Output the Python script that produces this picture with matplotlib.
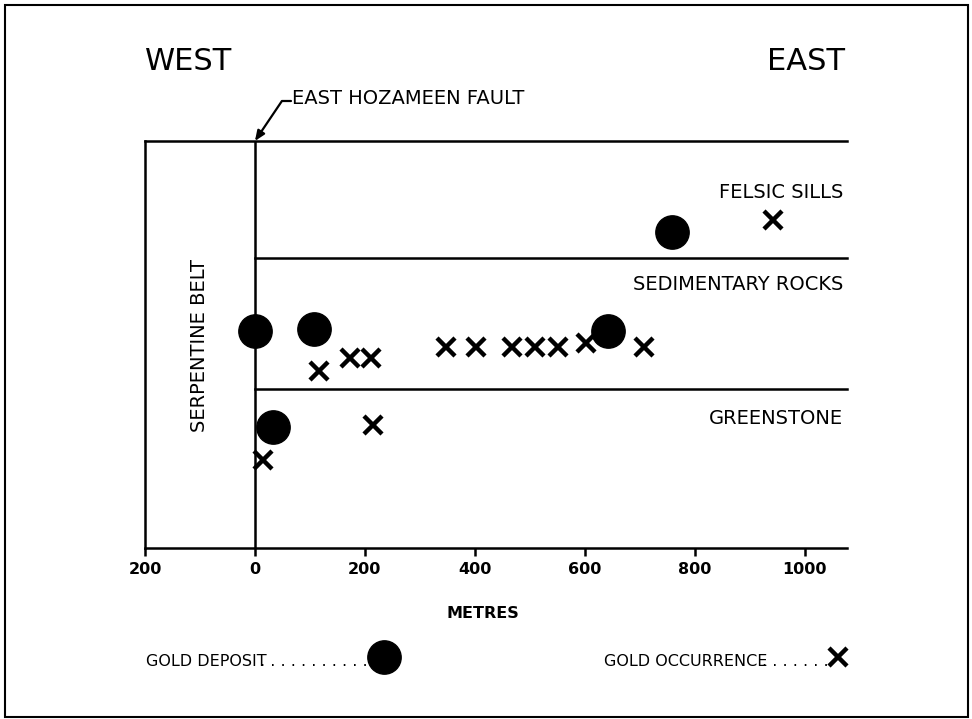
import matplotlib
matplotlib.use("Agg")
import matplotlib.pyplot as plt
from matplotlib.lines import Line2D
from matplotlib.patches import Rectangle

plt.rcParams["font.family"] = ["DejaVu Sans"]

# 金鉱床 (distance east of fault in metres, schematic height)
deposit_x = [0, 107, 33, 758, 642]
deposit_y = [217, 219, 121, 316, 217]

# 金の産出地点
occurrence_x = [116, 173, 211, 215, 15, 347, 402, 467, 509, 551, 602, 708, 942]
occurrence_y = [177, 190, 190, 123, 88, 201, 201, 201, 201, 201, 205, 201, 328]

# 地層境界と凡例
contacts = [290, 159]
units = ["FELSIC SILLS", "SEDIMENTARY ROCKS", "GREENSTONE"]
unit_y = [356, 263, 130]
xticks = [-200, 0, 200, 400, 600, 800, 1000]
xtick_labels = ["200", "0", "200", "400", "600", "800", "1000"]

W, H = 972, 719
fig = plt.figure(figsize=(W / 100, H / 100), dpi=100)

# 枠線
fig.add_artist(Rectangle((5 / W, 2 / H), 963 / W, 712 / H, transform=fig.transFigure,
                         fill=False, lw=1.5, ec="black"))

ax = fig.add_axes([145 / W, 1 - 548 / H, 702 / W, 407 / H])
ax.set_xlim(-200, 1077)
ax.set_ylim(0, 407)

for s in ["left", "bottom", "top"]:
    ax.spines[s].set_linewidth(1.8)
ax.spines["right"].set_visible(False)

ax.axvline(0, color="black", lw=1.8)
for c in contacts:
    ax.plot([0, 1077], [c, c], color="black", lw=1.8, clip_on=False)

ax.set_xticks(xticks)
ax.set_xticklabels(xtick_labels, fontsize=11.5, fontweight="bold")
ax.tick_params(axis="x", direction="out", length=6, width=1.8, pad=4)
ax.set_yticks([])

ax.plot(occurrence_x, occurrence_y, linestyle="none", marker="x", ms=13, mew=3.2, color="black")
ax.plot(deposit_x, deposit_y, linestyle="none", marker="o", ms=24, color="black")

for name, yy in zip(units, unit_y):
    ax.text(1070, yy, name, ha="right", va="center", fontsize=14)

ax.text(-100, 203, "SERPENTINE BELT", rotation=90, ha="center", va="center", fontsize=14)

fig.text(145 / W, 1 - 62 / H, "WEST", fontsize=22, ha="left", va="center")
fig.text(845 / W, 1 - 62 / H, "EAST", fontsize=22, ha="right", va="center")

# 断層の注記
fig.text(292 / W, 1 - 99 / H, "EAST HOZAMEEN FAULT", fontsize=14, ha="left", va="center")
ax.annotate("", xy=(0, 407), xycoords="data",
            xytext=(291, H - 101), textcoords="figure pixels",
            arrowprops=dict(arrowstyle="-|>,head_length=0.6,head_width=0.25", lw=1.6, color="black",
                            connectionstyle="angle,angleA=0,angleB=56,rad=0",
                            shrinkA=0, shrinkB=0))

fig.text(483 / W, 1 - 614 / H, "METRES", fontsize=11.5, fontweight="bold", ha="center", va="center")

# 凡例
leg_y = 657
dep_mx, occ_mx = 384, 838
fig.text(146 / W, 1 - (leg_y + 4) / H, "GOLD DEPOSIT", fontsize=11.5, ha="left", va="center")
fig.text((dep_mx - 16) / W, 1 - (leg_y + 4) / H, ". . . . . . . . . . .", fontsize=11.5, ha="right", va="center")
fig.add_artist(Line2D([dep_mx / W], [1 - leg_y / H], transform=fig.transFigure,
                      marker="o", ms=24, color="black", linestyle="none"))
fig.text(604 / W, 1 - (leg_y + 4) / H, "GOLD OCCURRENCE", fontsize=11.5, ha="left", va="center")
fig.text((occ_mx - 9) / W, 1 - (leg_y + 4) / H, ". . . . . . .", fontsize=11.5, ha="right", va="center")
fig.add_artist(Line2D([occ_mx / W], [1 - leg_y / H], transform=fig.transFigure,
                      marker="x", ms=13, mew=3.2, color="black", linestyle="none"))

fig.savefig("out.png", dpi=100)
